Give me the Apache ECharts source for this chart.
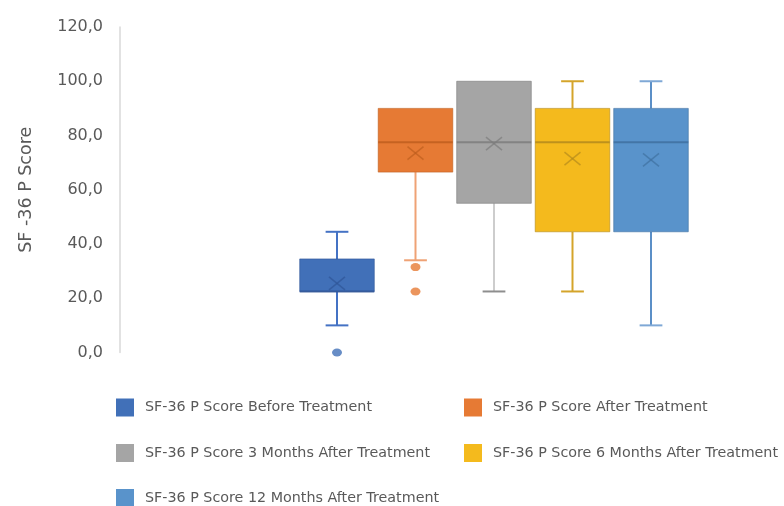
<!DOCTYPE html>
<html>
<head>
<meta charset="utf-8">
<script src="https://cdn.jsdelivr.net/npm/echarts@6/dist/echarts.min.js"></script>
<style>
html,body{margin:0;padding:0;background:#fff;}
#chart{width:784px;height:506px;}
</style>
</head>
<body>
<div id="chart"></div>
<script>
// ---- data ----
const seriesNames = [
  'SF-36 P Score Before Treatment',
  'SF-36 P Score After Treatment',
  'SF-36 P Score 3 Months After Treatment',
  'SF-36 P Score 6 Months After Treatment',
  'SF-36 P Score 12 Months After Treatment'
];
const minValues    = [10,   34,   22.5, 22.5, 10];
const q1Values     = [22.5, 66.5, 55,   44.5, 44.5];
const medianValues = [22.5, 77.5, 77.5, 77.5, 77.5];
const q3Values     = [34.5, 90,   100,  90,   90];
const maxValues    = [44.5, 90,   100,  100,  100];
const meanValues   = [25.5, 73.5, 77,   71.5, 71];
const outlierValues = [[0], [31.5, 22.5], [], [], []];
const yTicks = [0, 20, 40, 60, 80, 100, 120];

// ---- styles ----
const fills    = ['#4170B8', '#E67A34', '#A5A5A5', '#F4BA1D', '#5993CB'];
const darks    = ['#2F5597', '#BE5E1E', '#7C7C7C', '#B38A1C', '#3F70A0'];
const whiskers = ['#4472C4', '#EFA275', '#CDCDCD', '#D4A42A', '#5B8FC7'];
const caps     = ['#4472C4', '#EFA275', '#8E8E8E', '#D4A42A', '#7FA8D6'];
const FONT = 'DejaVu Sans';

function makeRenderer(i) {
  return function (params, api) {
    const cat = api.value(0);
    const pMin = api.coord([cat, api.value(1)]);
    const pQ1 = api.coord([cat, api.value(2)]);
    const pMed = api.coord([cat, api.value(3)]);
    const pQ3 = api.coord([cat, api.value(4)]);
    const pMax = api.coord([cat, api.value(5)]);
    const pMean = api.coord([cat, api.value(6)]);
    const band = api.size([1, 0])[0];
    const bw = band * 0.95;
    const half = bw / 2;
    const capHalf = band * 0.145;
    const x = pMin[0];
    const children = [];
    if (pMax[1] < pQ3[1] - 0.5) {
      children.push({type: 'line', shape: {x1: x, y1: pQ3[1], x2: x, y2: pMax[1]},
        style: {stroke: whiskers[i], lineWidth: 2}});
      children.push({type: 'line', shape: {x1: x - capHalf, y1: pMax[1], x2: x + capHalf, y2: pMax[1]},
        style: {stroke: caps[i], lineWidth: 2}});
    }
    if (pMin[1] > pQ1[1] + 0.5) {
      children.push({type: 'line', shape: {x1: x, y1: pQ1[1], x2: x, y2: pMin[1]},
        style: {stroke: whiskers[i], lineWidth: 2}});
      children.push({type: 'line', shape: {x1: x - capHalf, y1: pMin[1], x2: x + capHalf, y2: pMin[1]},
        style: {stroke: caps[i], lineWidth: 2}});
    }
    children.push({type: 'rect', shape: {x: x - half, y: pQ3[1], width: bw, height: pQ1[1] - pQ3[1]},
      style: {fill: fills[i], stroke: darks[i], lineWidth: 1, strokeOpacity: 0.6}});
    children.push({type: 'line', shape: {x1: x - half, y1: pMed[1], x2: x + half, y2: pMed[1]},
      style: {stroke: darks[i], lineWidth: 2, opacity: 0.85}});
    const mx = pMean[0], my = pMean[1];
    children.push({type: 'line', shape: {x1: mx - 8, y1: my - 6.5, x2: mx + 8, y2: my + 6.5},
      style: {stroke: darks[i], lineWidth: 1.5, opacity: 0.7}});
    children.push({type: 'line', shape: {x1: mx - 8, y1: my + 6.5, x2: mx + 8, y2: my - 6.5},
      style: {stroke: darks[i], lineWidth: 1.5, opacity: 0.7}});
    return {type: 'group', children: children};
  };
}

const series = [];
seriesNames.forEach(function (name, i) {
  series.push({
    name: name,
    type: 'custom',
    renderItem: makeRenderer(i),
    itemStyle: {color: fills[i]},
    encode: {x: 0, y: [1, 2, 3, 4, 5, 6]},
    data: [[i, minValues[i], q1Values[i], medianValues[i], q3Values[i], maxValues[i], meanValues[i]]],
    z: 2
  });
});
seriesNames.forEach(function (name, i) {
  if (!outlierValues[i].length) return;
  series.push({
    name: name + ' (outliers)',
    type: 'scatter',
    symbol: 'circle',
    symbolSize: [10, 8],
    itemStyle: {color: fills[i]},
    data: outlierValues[i].map(function (v) { return [i, v]; }),
    z: 3
  });
});

const legendPos = [[116, 398.5], [464, 398.5], [116, 444], [464, 444], [116, 489]];
const legends = seriesNames.map(function (name, i) {
  return {
    data: [name],
    left: legendPos[i][0],
    top: legendPos[i][1],
    padding: 0,
    icon: 'rect',
    itemWidth: 18,
    itemHeight: 18,
    selectedMode: false,
    textStyle: {color: '#595959', fontSize: 14.3, fontFamily: FONT, padding: [0, 0, 0, 6]}
  };
});

const chart = echarts.init(document.getElementById('chart'), null, {renderer: 'canvas'});
chart.setOption({
  animation: false,
  backgroundColor: '#ffffff',
  grid: {left: 297.75, width: 392.5, top: 27, bottom: 153.5},
  xAxis: {
    type: 'category',
    data: seriesNames,
    show: false
  },
  yAxis: {
    type: 'value',
    min: yTicks[0],
    max: yTicks[yTicks.length - 1],
    interval: 20,
    offset: 177.75,
    name: 'SF -36 P Score',
    nameLocation: 'middle',
    nameGap: 85,
    nameTextStyle: {color: '#595959', fontSize: 17.5, fontFamily: FONT},
    axisLine: {show: true, lineStyle: {color: '#D9D9D9', width: 1.5}},
    axisTick: {show: false},
    splitLine: {show: false},
    axisLabel: {
      color: '#595959', fontSize: 16, fontFamily: FONT, margin: 17,
      formatter: function (v) { return v.toFixed(1).replace('.', ','); }
    }
  },
  legend: legends,
  series: series
});
</script>
</body>
</html>
